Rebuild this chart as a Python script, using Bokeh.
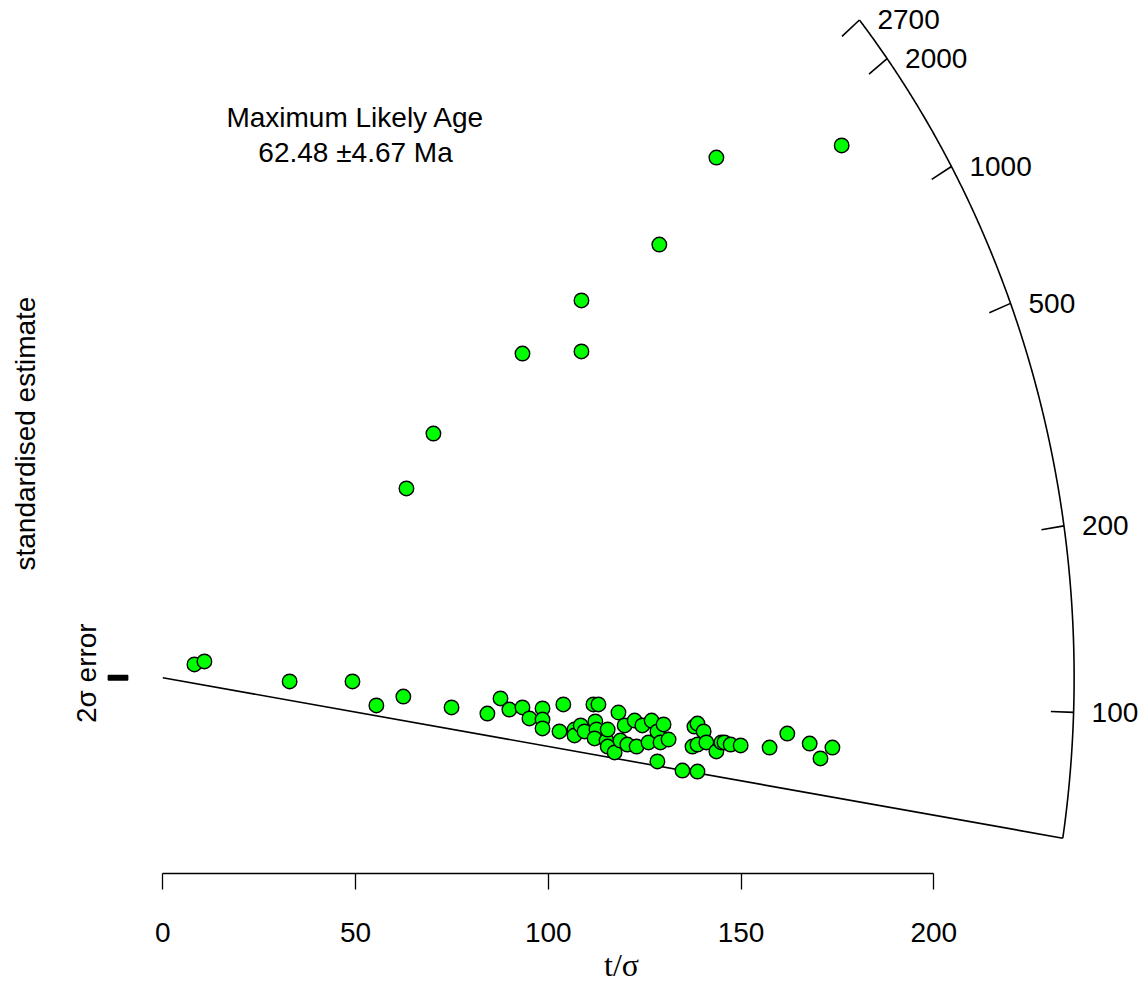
import numpy as np
from bokeh.plotting import figure
from bokeh.models import Range1d, FixedTicker, LinearAxis
from bokeh.core.properties import value
from bokeh.embed import file_html
from bokeh.resources import INLINE

# ---------------- data ----------------
# precision t/sigma and standardised estimate of every grain
precision = [176.1, 143.6, 128.8, 108.6, 93.3, 108.6, 70.2, 63.2,
             8.2, 10.8, 32.9, 49.2, 55.4, 62.4, 74.9, 84.2, 87.6, 89.9,
             93.3, 95.1, 98.5, 98.5, 98.5, 102.9, 103.9, 106.8, 106.8, 108.4,
             109.4, 111.7, 113.0, 112.2, 112.5, 112.0, 115.1, 115.4, 115.4, 117.2,
             118.2, 118.7, 119.8, 120.5, 122.4, 122.9, 124.4, 126.0, 126.8, 128.3,
             129.1, 129.9, 131.2, 128.3, 134.8, 138.7, 137.4, 137.9, 138.7, 138.7,
             140.3, 141.0, 143.6, 144.9, 145.7, 147.3, 149.9, 157.4, 162.0, 167.8,
             170.6, 173.7]
std_est = [463.3, 452.8, 377.1, 328.4, 282.2, 284.0, 212.6, 164.8,
           11.6, 14.2, -3.2, -3.2, -24.1, -16.3, -25.8, -31.1, -18.0, -27.6,
           -25.8, -35.4, -26.7, -36.3, -44.1, -46.7, -23.2, -45.0, -50.2, -41.5,
           -46.7, -23.2, -23.2, -38.0, -45.0, -52.8, -54.6, -45.0, -59.8, -65.0,
           -30.2, -54.6, -41.5, -58.1, -37.2, -59.8, -41.5, -56.3, -37.2, -46.7,
           -56.3, -40.6, -53.7, -72.8, -80.7, -81.6, -59.8, -42.4, -39.8, -58.1,
           -46.7, -56.3, -64.1, -56.3, -56.3, -58.1, -58.9, -60.7, -48.5, -57.2,
           -70.2, -60.7]

central_age = 113.6          # Ma, age of the horizontal (y = 0) direction
mla_age = 62.48              # Ma, maximum likely age
mla_err = 4.67
arc_min_age = 62.48
arc_max_age = 2700
arc_ticks = [100, 200, 500, 1000, 2000, 2700]
x_ticks = [0, 50, 100, 150, 200]
title_lines = ["Maximum Likely Age", "62.48 \u00b14.67 Ma"]
x_label = "t/\u03c3"
y_label = "standardised estimate"
err_label = "2\u03c3 error"

# ---------------- layout ----------------
KX, KY = 3.855, 1.149        # pixels per unit in x and y
W, H = 1145, 986
FRAME_H = 873
OX, OY = 162.3, 677.3        # origin position inside the figure (px)
A_AX, B_AX = 236.4, 888.0    # semi-axes of the radial age scale
FONT = value("Liberation Sans")
FS = value("28px")
XLAB_POS = 119

z0 = np.log(central_age)


def arc_xy(t, scale=1.0):
    s = np.log(np.asarray(t, dtype=float)) - z0
    x = scale / np.sqrt(1.0 / A_AX ** 2 + s ** 2 / B_AX ** 2)
    return x, s * x


p = figure(width=W, height=H,
           x_range=Range1d(-OX / KX, (W - OX) / KX),
           y_range=Range1d(-(FRAME_H - OY) / KY, OY / KY),
           output_backend="svg", toolbar_location=None,
           y_axis_location=None,
           min_border_left=0, min_border_right=0, min_border_top=0,
           min_border_bottom=H - FRAME_H)
p.outline_line_color = None
p.grid.visible = False
p.background_fill_color = "white"
p.border_fill_color = "white"

# bottom axis
ax = p.xaxis[0]
ax.ticker = FixedTicker(ticks=x_ticks)
ax.bounds = (min(x_ticks), max(x_ticks))
ax.axis_line_color = "black"
ax.axis_line_width = 1.3
ax.major_tick_line_color = "black"
ax.major_tick_line_width = 1.3
ax.major_tick_out = 16
ax.major_tick_in = 0
ax.minor_tick_line_color = None
ax.major_label_text_font = "Liberation Sans"
ax.major_label_text_font_size = "28px"
ax.major_label_text_color = "black"
ax.major_label_standoff = 33

# x-axis title, placed as a one-label axis under the first one
ax2 = LinearAxis(ticker=FixedTicker(ticks=[XLAB_POS]),
                 major_label_overrides={XLAB_POS: x_label},
                 axis_line_color=None, major_tick_line_color=None,
                 minor_tick_line_color=None, major_tick_out=0, major_tick_in=0,
                 major_label_standoff=2,
                 major_label_text_font="Liberation Serif",
                 major_label_text_font_size="32px",
                 major_label_text_color="black")
p.add_layout(ax2, "below")

# radial age scale (arc)
ages = np.exp(np.linspace(np.log(arc_min_age), np.log(arc_max_age), 400))
axx, axy = arc_xy(ages)
p.line(axx, axy, line_color="black", line_width=1.6)

tx, ty = arc_xy(arc_ticks)
tx2, ty2 = arc_xy(arc_ticks, 0.975)
p.segment(x0=tx, y0=ty, x1=tx2, y1=ty2, line_color="black", line_width=1.6)
p.text(x=tx + 18 / KX, y=ty, text=[str(t) for t in arc_ticks],
       text_font=FONT, text_font_size=FS, text_color="black",
       text_align="left", text_baseline="middle")

# line of the maximum likely age
mx, my = arc_xy([mla_age])
p.line([0, mx[0]], [0, my[0]], line_color="black", line_width=1.6)

# 2 sigma error bar
p.quad(left=[-44.8 / KX - 2.5], right=[-44.8 / KX + 2.5], bottom=[-2], top=[2],
       fill_color="black", line_color="black", line_width=1.5)
p.text(x=[-76 / KX], y=[4], text=[err_label], angle=np.pi / 2,
       text_font=FONT, text_font_size=FS, text_color="black",
       text_align="center", text_baseline="middle")

# y label
p.text(x=[-137 / KX], y=[212.6], text=[y_label], angle=np.pi / 2,
       text_font=FONT, text_font_size=FS, text_color="black",
       text_align="center", text_baseline="middle")

# title
p.text(x=[50.0, 50.0], y=[487.6, 457.2], text=title_lines,
       text_font=FONT, text_font_size=FS, text_color="black",
       text_align="center", text_baseline="middle")

# grains
p.scatter(precision, std_est, size=14.5, fill_color="#00ff00",
          line_color="black", line_width=1.4)

open("out.html", "w").write(file_html(p, INLINE))
